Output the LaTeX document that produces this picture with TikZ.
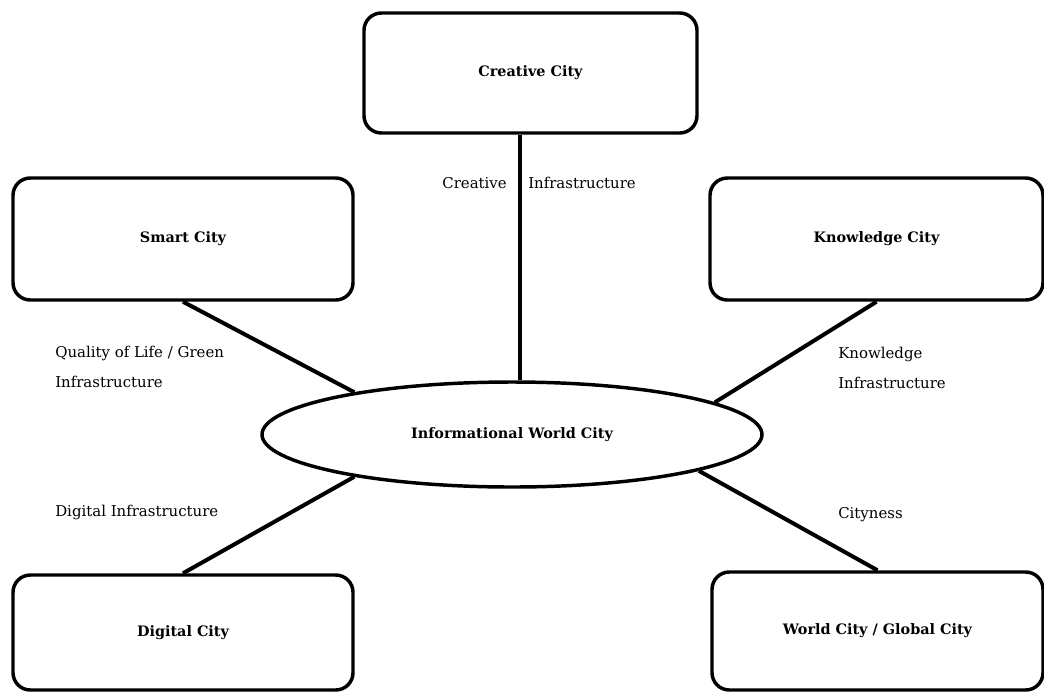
\documentclass[tikz,border=0pt]{standalone}
\usepackage{fontspec}
\setmainfont{DejaVu Serif}
\usetikzlibrary{shapes.geometric}
\tikzset{
  citybox/.style={rounded corners=13pt, draw=black, line width=2.6pt, align=center, inner sep=0pt, font=\bfseries\fontsize{10.8}{12}\selectfont},
  hub/.style={ellipse, draw=black, line width=2.6pt, minimum width=375pt, minimum height=78.75pt, inner sep=0pt, font=\bfseries\fontsize{10.8}{12}\selectfont},
  link/.style={line width=3pt, draw=black},
  tag/.style={inner sep=0pt, align=left, font=\fontsize{11.2}{22.5}\selectfont}
}

\begin{document}
\begin{tikzpicture}[x=0.75pt, y=-0.75pt]
  \useasboundingbox (0,0) rectangle (1044,693);
  % the six cities
  \node[hub] (iwc) at (512,434.5) {Informational World City};
  \node[citybox, minimum width=249.75pt, minimum height=90pt] (creative) at (530.5,73) {Creative City};
  \node[citybox, minimum width=255pt, minimum height=91.5pt] (smart) at (183,239) {Smart City};
  \node[citybox, minimum width=249.75pt, minimum height=91.5pt] (knowledge) at (876.5,239) {Knowledge City};
  \node[citybox, minimum width=255pt, minimum height=86.25pt] (digital) at (183,632.5) {Digital City};
  \node[citybox, minimum width=248.25pt, minimum height=88.5pt] (world) at (877.5,631) {World City / Global City};
  % links
  \coordinate (axis) at (520,0);
  \draw[link] (creative.south -| axis) -- (iwc.north -| axis);
  \draw[link] (smart.south) -- (iwc.165);
  \draw[link] (knowledge.south) -- (iwc.9.5);
  \draw[link] (digital.north) -- (iwc.195.5);
  \draw[link] (world.north) -- (iwc.349.5);
  % link labels
  \node[tag, anchor=east] (creativeL) at (507,183) {Creative};
  \node[tag, anchor=west] (creativeR) at (528,183) {Infrastructure};
  \node[tag, anchor=west] (smartL) at (55,367) {Quality of Life / Green\\Infrastructure};
  \node[tag, anchor=west] (knowledgeL) at (838,368) {Knowledge\\Infrastructure};
  \node[tag, anchor=west] (digitalL) at (55,512) {Digital Infrastructure};
  \node[tag, anchor=west] (worldL) at (838,515) {Cityness};
\end{tikzpicture}
\end{document}
